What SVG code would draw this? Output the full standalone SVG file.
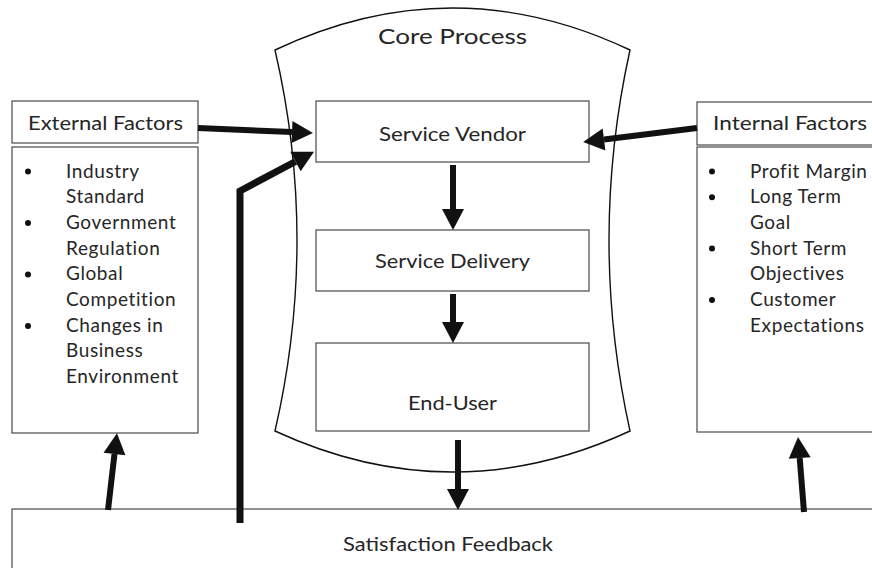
<svg xmlns="http://www.w3.org/2000/svg" width="872" height="568" viewBox="0 0 872 568">
  <defs>
    <style>
      .box { fill: #ffffff; stroke: #4a4a4a; stroke-width: 1.2; }
      .core { fill: #ffffff; stroke: #111111; stroke-width: 1.4; }
      .lbl { font-family: Lato, "Liberation Sans", sans-serif; fill: #262626; }
      .title { font-size: 22px; }
      .step { font-size: 19px; text-anchor: middle; }
      .head { font-size: 18.5px; }
      .item { font-size: 19px; letter-spacing: 0.6px; }
      .dot { fill: #111111; }
      .arrow { fill: none; stroke: #111111; stroke-width: 6; stroke-linejoin: miter; marker-end: url(#tip); }
      .thick { stroke-width: 7; }
    </style>
    <marker id="tip" markerUnits="userSpaceOnUse" viewBox="0 -11 21 22" refX="0" refY="0" markerWidth="21" markerHeight="22" orient="auto" overflow="visible">
      <path d="M0,-11 L21,0 L0,11 Z" fill="#111111"/>
    </marker>
  </defs>

  <!-- Core process container -->
  <g id="core-process">
    <path class="core" d="M275,50 Q452.5,-34 630,50 Q588,240 630,431 Q452.5,513 275,431 Q319,240 275,50 Z"/>
    <text class="lbl title" x="378" y="44" textLength="149" lengthAdjust="spacingAndGlyphs">Core Process</text>
  </g>

  <g id="service-vendor">
    <rect class="box" x="316" y="101" width="273" height="61"/>
    <text class="lbl step" x="452.5" y="140.5" textLength="147" lengthAdjust="spacingAndGlyphs">Service Vendor</text>
  </g>

  <g id="service-delivery">
    <rect class="box" x="316" y="230" width="273" height="61"/>
    <text class="lbl step" x="452.5" y="268" textLength="155" lengthAdjust="spacingAndGlyphs">Service Delivery</text>
  </g>

  <g id="end-user">
    <rect class="box" x="316" y="343" width="273" height="88"/>
    <text class="lbl step" x="452.5" y="410" textLength="89" lengthAdjust="spacingAndGlyphs">End-User</text>
  </g>

  <!-- External factors -->
  <g id="external-factors">
    <rect class="box" x="12" y="101" width="186" height="42"/>
    <text class="lbl head" x="28" y="130" textLength="155" lengthAdjust="spacingAndGlyphs">External Factors</text>
  </g>
  <g id="external-list">
    <rect class="box" x="12" y="147" width="186" height="286"/>
    <circle class="dot" cx="28" cy="171.5" r="3"/>
    <circle class="dot" cx="28" cy="223" r="3"/>
    <circle class="dot" cx="28" cy="274.5" r="3"/>
    <circle class="dot" cx="28" cy="326" r="3"/>
    <g class="lbl item">
      <text x="66" y="177.5">Industry</text>
      <text x="66" y="203.2">Standard</text>
      <text x="66" y="228.9">Government</text>
      <text x="66" y="254.6">Regulation</text>
      <text x="66" y="280.3">Global</text>
      <text x="66" y="306">Competition</text>
      <text x="66" y="331.7">Changes in</text>
      <text x="66" y="357.4">Business</text>
      <text x="66" y="383.1">Environment</text>
    </g>
  </g>

  <!-- Internal factors -->
  <g id="internal-factors">
    <rect class="box" x="697" y="102" width="190" height="43"/>
    <text class="lbl head" x="713" y="130" textLength="154" lengthAdjust="spacingAndGlyphs">Internal Factors</text>
  </g>
  <g id="internal-list">
    <rect class="box" x="697" y="147" width="190" height="285"/>
    <circle class="dot" cx="712" cy="171.5" r="3"/>
    <circle class="dot" cx="712" cy="197.3" r="3"/>
    <circle class="dot" cx="712" cy="248.5" r="3"/>
    <circle class="dot" cx="712" cy="300" r="3"/>
    <g class="lbl item">
      <text x="750" y="177.5">Profit Margin</text>
      <text x="750" y="203.2">Long Term</text>
      <text x="750" y="228.9">Goal</text>
      <text x="750" y="254.6">Short Term</text>
      <text x="750" y="280.3">Objectives</text>
      <text x="750" y="306">Customer</text>
      <text x="750" y="331.7">Expectations</text>
    </g>
  </g>

  <!-- Feedback -->
  <g id="satisfaction-feedback">
    <rect class="box" x="12" y="509" width="880" height="80"/>
    <text class="lbl head" x="343" y="551" textLength="210" lengthAdjust="spacingAndGlyphs">Satisfaction Feedback</text>
  </g>

  <!-- Connectors -->
  <g id="connectors">
    <path class="arrow" d="M198,128 L292,132"/>
    <path class="arrow" d="M697,128 L604,139.5"/>
    <path class="arrow thick" d="M240,523 L240,191 L295.5,161.5"/>
    <path class="arrow" d="M453,165 L453,209"/>
    <path class="arrow" d="M453,294 L453,322"/>
    <path class="arrow" d="M458,440 L458,489"/>
    <path class="arrow" d="M108,510 L114.5,454"/>
    <path class="arrow" d="M804,512 L799.7,458"/>
  </g>
</svg>
